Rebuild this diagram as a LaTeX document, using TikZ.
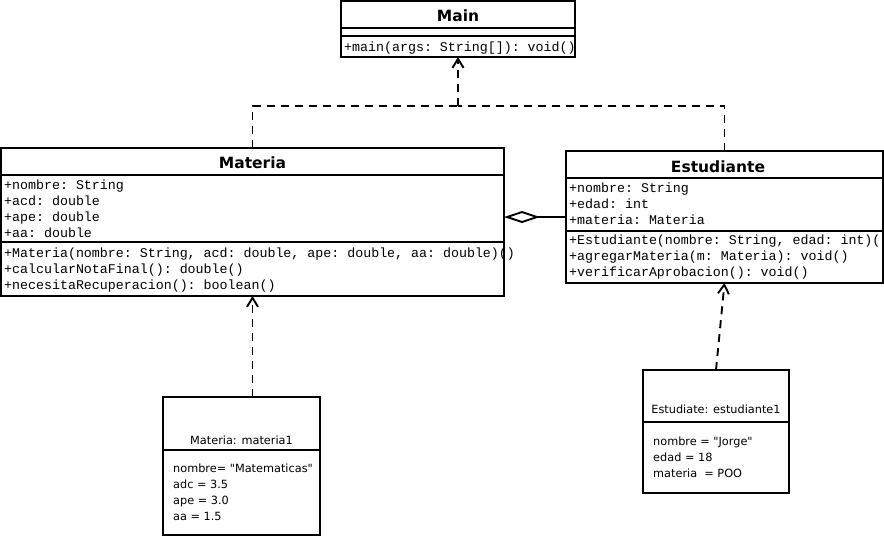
\documentclass[tikz,border=0pt]{standalone}
\usepackage{fontspec}
\setmonofont{Liberation Mono}
\setsansfont{DejaVu Sans}[Ligatures=TeXOff]
\usetikzlibrary{arrows.meta, positioning}

\tikzset{
  classbox/.style={draw, line width=1.9pt, inner sep=0pt, outer sep=0pt},
  sepline/.style={line width=1.9pt},
  classtitle/.style={anchor=base, inner sep=0pt, font=\sffamily\bfseries\fontsize{15.5}{18}\selectfont},
  member/.style={anchor=base west, inner sep=0pt, font=\ttfamily\fontsize{13.3}{16}\selectfont},
  objtext/.style={anchor=base west, inner sep=0pt, font=\sffamily\fontsize{11.3}{16}\selectfont},
  objtitle/.style={anchor=base, inner sep=0pt, font=\sffamily\fontsize{11.3}{16}\selectfont},
  dep/.style={line width=1.9pt, dash pattern=on 8pt off 6pt},
  opentip/.style={-{Straight Barb[length=9pt, width=11pt]}},
  agg/.style={line width=1.9pt, {Diamond[open, length=36pt, width=12pt]}-},
}

\begin{document}
\begin{tikzpicture}[x=1pt, y=-1pt]
  \useasboundingbox (0,0) rectangle (884,536);

  % Main class
  \node[classbox, minimum width=234pt, minimum height=56pt] (main) at (458, 29) {};
  \draw[sepline] (main.west |- 0,28) -- (main.east |- 0,28);
  \draw[sepline] (main.west |- 0,36) -- (main.east |- 0,36);
  \node[classtitle] (mainT) at (458, 21) {Main};
  \node[member] (mainM1) at (344, 51) {+main(args: String[]): void()};

  % Materia class
  \node[classbox, minimum width=503pt, minimum height=148pt] (materia) at (252.5, 222) {};
  \draw[sepline] (materia.west |- 0,175) -- (materia.east |- 0,175);
  \draw[sepline] (materia.west |- 0,242) -- (materia.east |- 0,242);
  \node[classtitle] (materiaT) at (252.5, 168) {Materia};
  \node[member] (materiaA1) at (4, 189) {+nombre: String};
  \node[member] (materiaA2) at (4, 205) {+acd: double};
  \node[member] (materiaA3) at (4, 221) {+ape: double};
  \node[member] (materiaA4) at (4, 237) {+aa: double};
  \node[member] (materiaM1) at (4, 257) {+Materia(nombre: String, acd: double, ape: double, aa: double)()};
  \node[member] (materiaM2) at (4, 273) {+calcularNotaFinal(): double()};
  \node[member] (materiaM3) at (4, 289) {+necesitaRecuperacion(): boolean()};

  % Estudiante class
  \node[classbox, minimum width=317pt, minimum height=132pt] (estudiante) at (724.5, 217) {};
  \draw[sepline] (estudiante.west |- 0,178) -- (estudiante.east |- 0,178);
  \draw[sepline] (estudiante.west |- 0,231) -- (estudiante.east |- 0,231);
  \node[classtitle] (estudianteT) at (718, 172) {Estudiante};
  \node[member] (estudianteA1) at (569, 192) {+nombre: String};
  \node[member] (estudianteA2) at (569, 208) {+edad: int};
  \node[member] (estudianteA3) at (569, 224) {+materia: Materia};
  \node[member] (estudianteM1) at (569, 244) {+Estudiante(nombre: String, edad: int)()};
  \node[member] (estudianteM2) at (569, 260) {+agregarMateria(m: Materia): void()};
  \node[member] (estudianteM3) at (569, 276) {+verificarAprobacion(): void()};

  % Objects
  \node[classbox, minimum width=157pt, minimum height=138pt] (materiaObj) at (241.5, 466) {};
  \draw[sepline] (materiaObj.west |- 0,450) -- (materiaObj.east |- 0,450);
  \node[objtitle] (materiaObjT) at (241.5, 444) {Materia: materia1};
  \node[objtext] (materiaObjA1) at (173, 472) {nombre= "Matematicas"};
  \node[objtext] (materiaObjA2) at (173, 488) {adc = 3.5};
  \node[objtext] (materiaObjA3) at (173, 504) {ape = 3.0};
  \node[objtext] (materiaObjA4) at (173, 520) {aa = 1.5};

  \node[classbox, minimum width=146pt, minimum height=123pt] (estudianteObj) at (716, 431.5) {};
  \draw[sepline] (estudianteObj.west |- 0,422) -- (estudianteObj.east |- 0,422);
  \node[objtitle] (estudianteObjT) at (716, 413) {Estudiate: estudiante1};
  \node[objtext] (estudianteObjA1) at (653, 445) {nombre = "Jorge"};
  \node[objtext] (estudianteObjA2) at (653, 461) {edad = 18};
  \node[objtext] (estudianteObjA3) at (653, 477) {materia\ \ = POO};

  % Connectors
  \coordinate (bend) at (458, 106);
  \draw[dep] (materia.north) |- (bend);
  \draw[dep] (estudiante.north) |- (bend);
  \draw[dep, opentip] (bend) -- (main.south);
  \draw[agg] ([yshift=5pt]materia.east) -- (estudiante.west);
  \draw[dep, opentip] (materiaObj.north -| materia.south) -- (materia.south);
  \draw[dep, opentip] (estudianteObj.north) -- (estudiante.south);
\end{tikzpicture}
\end{document}
